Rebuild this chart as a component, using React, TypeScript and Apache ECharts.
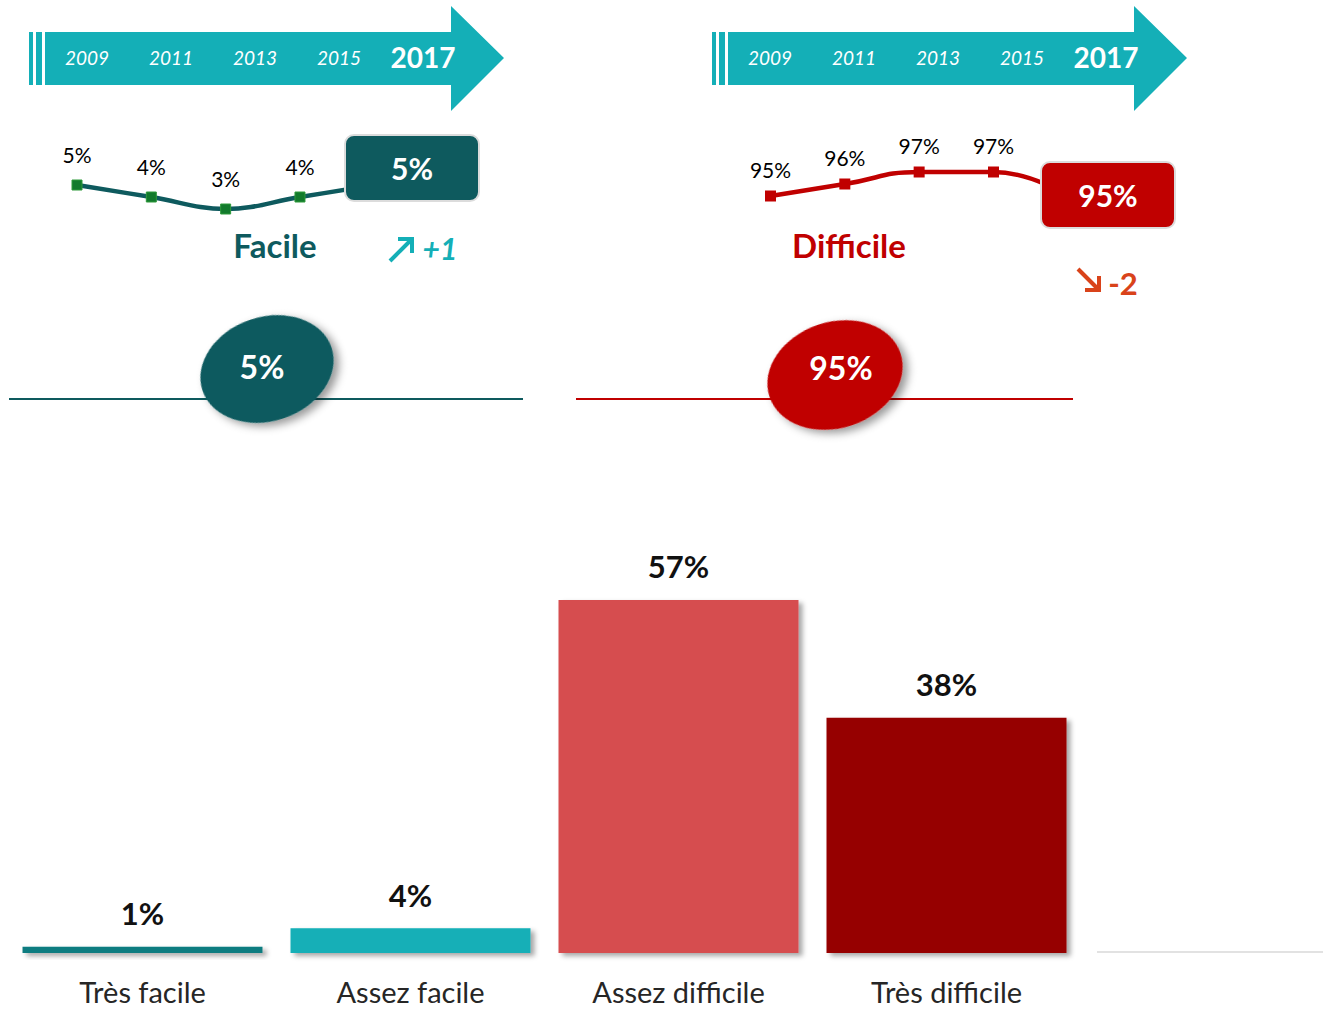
import React, { useEffect, useRef } from "react";
import * as echarts from "echarts";

const years = ["2009", "2011", "2013", "2015", "2017"];
const facileTrend = [5, 4, 3, 4, 5];
const difficileTrend = [95, 96, 97, 97, 95];
const categories = ["Très facile", "Assez facile", "Assez difficile", "Très difficile"];
const barValues = [1, 4, 57, 38];

const FONT = "Lato, 'Open Sans', sans-serif";
const TEAL_DARK = "#0e5a5e";
const TEAL = "#14afb7";
const RED = "#c00000";
const barColors = ["#117c80", "#14afb7", "#d64d4f", "#960000"];

function txt(text: string, x: number, y: number, size: number, fill: string, weight = "normal", style = "normal", z = 20) {
  return {
    type: "text",
    z,
    style: {
      text,
      x,
      y,
      fill,
      font: `${style} ${weight} ${size}px ${FONT}`,
      align: "center",
      verticalAlign: "middle",
      textAlign: "center",
      textVerticalAlign: "middle",
    },
  };
}

function arrowBanner(dx: number) {
  const els: any[] = [];
  els.push({ type: "rect", z: 5, shape: { x: 29 + dx, y: 32, width: 4, height: 53 }, style: { fill: TEAL } });
  els.push({ type: "rect", z: 5, shape: { x: 36 + dx, y: 32, width: 6, height: 53 }, style: { fill: TEAL } });
  els.push({
    type: "polygon",
    z: 5,
    shape: {
      points: [
        [45 + dx, 32],
        [451 + dx, 32],
        [451 + dx, 6],
        [504 + dx, 58],
        [451 + dx, 111],
        [451 + dx, 85],
        [45 + dx, 85],
      ],
    },
    style: { fill: TEAL },
  });
  years.forEach((yr, i) => {
    const last = i === years.length - 1;
    els.push(txt(yr, 87 + dx + 84 * i, 57, last ? 28 : 19, "#ffffff", last ? "bold" : "normal", last ? "normal" : "italic"));
  });
  return els;
}

export default function App() {
  const ref = useRef<HTMLDivElement>(null);

  useEffect(() => {
    if (!ref.current) return;
    const chart = echarts.init(ref.current, undefined, { renderer: "svg" });

    const facileTotal = barValues[0] + barValues[1];
    const difficileTotal = barValues[2] + barValues[3];
    const fLast = facileTrend[facileTrend.length - 1];
    const dLast = difficileTrend[difficileTrend.length - 1];
    const fDelta = fLast - facileTrend[facileTrend.length - 2];
    const dDelta = dLast - difficileTrend[difficileTrend.length - 2];

    const lineData = (arr: number[]) =>
      arr.map((v, i) => (i === arr.length - 1 ? { value: v, label: { show: false } } : v));

    const graphic: any[] = [
      ...arrowBanner(0),
      ...arrowBanner(683),
      {
        type: "rect",
        z: 10,
        shape: { x: 345, y: 135, width: 134, height: 66, r: 9 },
        style: { fill: TEAL_DARK, stroke: "#dcdcdc", lineWidth: 2 },
      },
      txt(`${fLast}%`, 412, 168, 30, "#ffffff", "bold"),
      {
        type: "rect",
        z: 10,
        shape: { x: 1041, y: 162, width: 134, height: 66, r: 9 },
        style: { fill: RED, stroke: "#dcdcdc", lineWidth: 2 },
      },
      txt(`${dLast}%`, 1108, 195, 30, "#ffffff", "bold"),
      txt("Facile", 275, 245, 33, TEAL_DARK, "bold"),
      txt("Difficile", 849, 245, 33, RED, "bold"),
      { type: "line", z: 10, shape: { x1: 390, y1: 261, x2: 411, y2: 240 }, style: { stroke: TEAL, lineWidth: 4 } },
      {
        type: "polyline",
        z: 10,
        shape: { points: [[398, 239], [412, 239], [412, 253]] },
        style: { stroke: TEAL, lineWidth: 4, fill: "none" },
      },
      txt(`+${fDelta}`, 440, 248, 30, TEAL, "bold", "italic"),
      { type: "line", z: 10, shape: { x1: 1078, y1: 269, x2: 1098, y2: 289 }, style: { stroke: "#d9431a", lineWidth: 4 } },
      {
        type: "polyline",
        z: 10,
        shape: { points: [[1085, 290], [1099, 290], [1099, 276]] },
        style: { stroke: "#d9431a", lineWidth: 4, fill: "none" },
      },
      txt(`${dDelta}`, 1123, 283, 31, "#d9431a", "bold"),
      { type: "line", z: 5, shape: { x1: 9, y1: 399, x2: 523, y2: 399 }, style: { stroke: TEAL_DARK, lineWidth: 2 } },
      { type: "line", z: 5, shape: { x1: 576, y1: 399, x2: 1073, y2: 399 }, style: { stroke: RED, lineWidth: 2 } },
      {
        type: "ellipse",
        z: 8,
        x: 267,
        y: 369,
        rotation: 0.32,
        shape: { cx: 0, cy: 0, rx: 68, ry: 52 },
        style: { fill: TEAL_DARK, shadowBlur: 8, shadowOffsetX: 4, shadowOffsetY: 5, shadowColor: "rgba(0,0,0,0.4)" },
      },
      txt(`${facileTotal}%`, 262, 366, 32, "#ffffff", "bold"),
      {
        type: "ellipse",
        z: 8,
        x: 835,
        y: 375,
        rotation: 0.32,
        shape: { cx: 0, cy: 0, rx: 69, ry: 53 },
        style: { fill: RED, shadowBlur: 8, shadowOffsetX: 4, shadowOffsetY: 5, shadowColor: "rgba(0,0,0,0.4)" },
      },
      txt(`${difficileTotal}%`, 841, 367, 32, "#ffffff", "bold"),
      { type: "line", z: 1, shape: { x1: 1097, y1: 952, x2: 1323, y2: 952 }, style: { stroke: "#d9d9d9", lineWidth: 1.5 } },
    ];

    chart.setOption({
      animation: false,
      backgroundColor: "#ffffff",
      textStyle: { fontFamily: FONT },
      grid: [
        { left: 77, top: 125, width: 297.3, height: 120 },
        { left: 770.5, top: 136, width: 297.3, height: 120 },
        { left: 8.5, bottom: 56, width: 1072, height: 371.6 },
      ],
      xAxis: [
        { type: "category", gridIndex: 0, data: years, boundaryGap: false, show: false },
        { type: "category", gridIndex: 1, data: years, boundaryGap: false, show: false },
        {
          type: "category",
          gridIndex: 2,
          data: categories,
          axisLine: { show: false },
          axisTick: { show: false },
          axisLabel: { margin: 24, fontSize: 29, lineHeight: 28, color: "#262626", fontFamily: FONT },
        },
      ],
      yAxis: [
        { type: "value", gridIndex: 0, min: 0, max: 10, show: false },
        { type: "value", gridIndex: 1, min: 90, max: 100, show: false },
        { type: "value", gridIndex: 2, min: 0, max: 60, show: false },
      ],
      series: [
        {
          type: "line",
          xAxisIndex: 0,
          yAxisIndex: 0,
          data: lineData(facileTrend),
          smooth: 0.4,
          symbol: "rect",
          symbolSize: 10,
          lineStyle: { color: TEAL_DARK, width: 4.5 },
          itemStyle: { color: "#127a2c", borderColor: "#2f9a3a", borderWidth: 1 },
          label: {
            show: true,
            position: "top",
            distance: 15,
            formatter: "{c}%",
            fontSize: 21,
            color: "#000",
            fontFamily: FONT,
          },
        },
        {
          type: "line",
          xAxisIndex: 1,
          yAxisIndex: 1,
          data: lineData(difficileTrend),
          smooth: 0.5,
          symbol: "rect",
          symbolSize: 11,
          lineStyle: { color: RED, width: 4.5 },
          itemStyle: { color: RED },
          label: {
            show: true,
            position: "top",
            distance: 11,
            formatter: "{c}%",
            fontSize: 21,
            color: "#000",
            fontFamily: FONT,
          },
        },
        {
          type: "bar",
          xAxisIndex: 2,
          yAxisIndex: 2,
          barWidth: 240,
          data: barValues.map((v, i) => ({ value: v, itemStyle: { color: barColors[i] } })),
          itemStyle: {
            shadowBlur: 5,
            shadowOffsetX: 4,
            shadowOffsetY: 3,
            shadowColor: "rgba(0,0,0,0.35)",
          },
          label: {
            show: true,
            position: "top",
            distance: 18,
            formatter: "{c}%",
            fontSize: 31,
            fontWeight: "bold",
            color: "#111",
            fontFamily: FONT,
          },
        },
      ],
      graphic,
    });

    return () => chart.dispose();
  }, []);

  return (
    <div
      ref={ref}
      style={{ position: "absolute", left: 0, top: 0, width: 1323, height: 1009, background: "#fff" }}
    />
  );
}
